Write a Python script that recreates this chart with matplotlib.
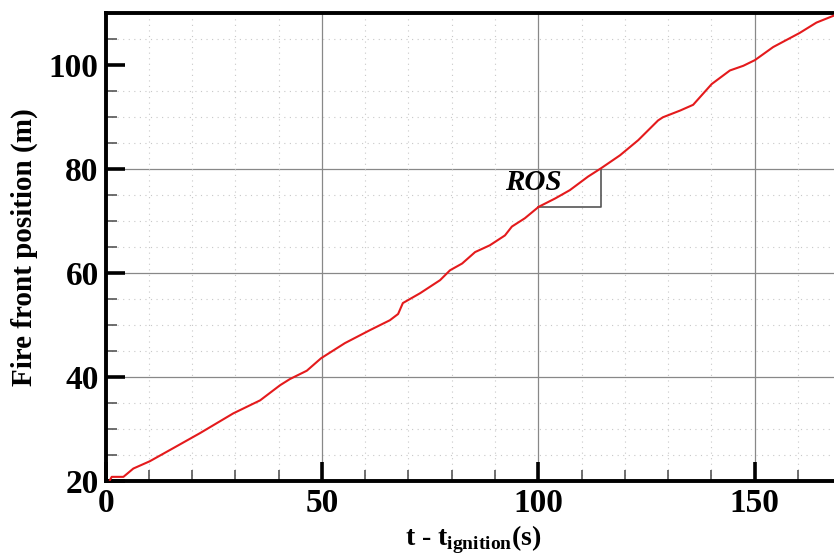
import matplotlib
matplotlib.use("Agg")
from matplotlib import pyplot as plt
from matplotlib.ticker import MultipleLocator

plt.rcParams['font.family'] = ['Liberation Serif', 'DejaVu Serif']
plt.rcParams['font.weight'] = 'bold'
plt.rcParams['mathtext.fontset'] = 'custom'
plt.rcParams['mathtext.rm'] = 'Liberation Serif:bold'

# fire front position
t = [1.0, 1.4, 4.1, 6.4, 10.2, 15.8, 21.8, 29.5, 35.7, 40.3, 42.6, 46.5, 49.8,
     55.3, 61.1, 65.7, 67.6, 68.7, 72.7, 77.3, 79.6, 82.4, 85.4, 88.8, 92.3,
     93.9, 96.9, 100.1, 103.9, 107.3, 111.5, 114.5, 118.9, 123.1, 127.7, 128.8,
     132.8, 135.8, 140.1, 144.3, 147.4, 150.1, 154.3, 160.4, 164.3, 168.2, 170.0]
pos = [20.2, 20.8, 20.8, 22.4, 23.8, 26.4, 29.2, 33.0, 35.5, 38.4, 39.6, 41.2, 43.6,
       46.5, 49.0, 50.9, 52.1, 54.2, 56.1, 58.6, 60.5, 61.8, 64.0, 65.3, 67.2,
       68.9, 70.5, 72.7, 74.3, 75.9, 78.5, 80.1, 82.6, 85.5, 89.3, 89.9,
       91.2, 92.3, 96.3, 98.9, 99.8, 100.9, 103.4, 106.1, 108.1, 109.4, 110.0]

# ROS bracket
ros_t = [100.0, 114.6, 114.6]
ros_y = [72.65, 72.65, 80.0]

fig = plt.figure(figsize=(8.34, 5.55), dpi=100)
ax = fig.add_axes([0.1267, 0.1333, 0.8818, 0.8438])

ax.set_xlim(0, 170)
ax.set_ylim(20, 110)
ax.xaxis.set_major_locator(MultipleLocator(50))
ax.xaxis.set_minor_locator(MultipleLocator(10))
ax.yaxis.set_major_locator(MultipleLocator(20))
ax.yaxis.set_minor_locator(MultipleLocator(5))

ax.grid(which='minor', color='#c8c8c8', linestyle=(0, (1, 4)), linewidth=0.8)
for xv in [50, 100, 150]:
    ax.axvline(xv, color='#888888', linewidth=0.9, zorder=1)
for yv in [40, 60, 80]:
    ax.axhline(yv, color='#888888', linewidth=0.9, zorder=1)

ax.plot(t, pos, color='#e41a1c', linewidth=1.5, zorder=3)
ax.plot(ros_t, ros_y, color='#555555', linewidth=1.2, zorder=2)
ax.text(92.4, 77.4, 'ROS', fontsize=21, fontweight='bold', fontstyle='italic',
        va='center', ha='left')

for s in ax.spines.values():
    s.set_linewidth(2.8)
ax.tick_params(which='major', direction='in', length=14, width=2.6,
               labelsize=24, pad=5)
ax.tick_params(which='minor', direction='in', length=8, width=1.2, color='#555555')
ax.tick_params(top=False, right=False, which='both')

ax.set_xlabel(r't - t$_{\mathregular{ignition}}$(s)', fontsize=20, fontweight='bold',
              labelpad=3)
ax.set_ylabel('Fire front position (m)', fontsize=21, fontweight='bold', labelpad=8)

fig.savefig('out.png', dpi=100)
